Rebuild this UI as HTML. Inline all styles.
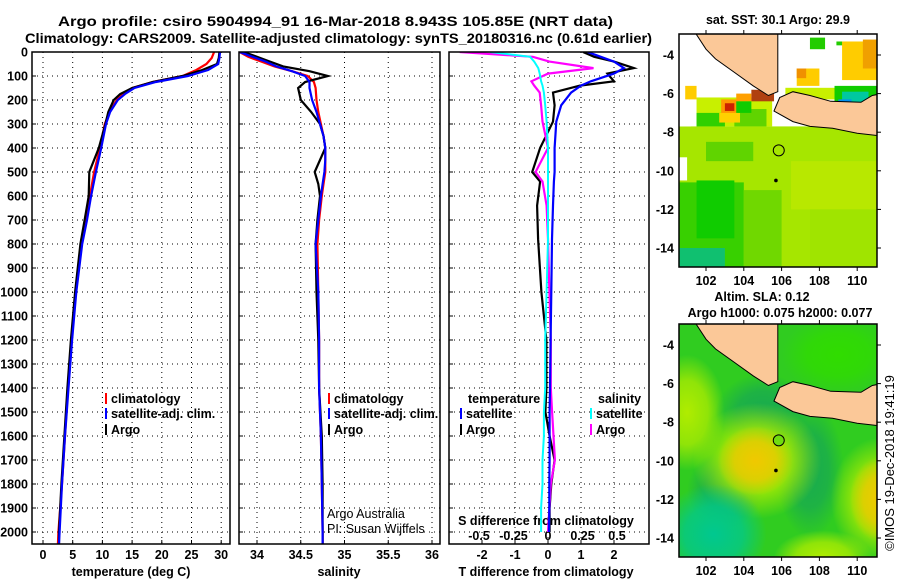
<!DOCTYPE html>
<html><head><meta charset="utf-8">
<style>
html,body{margin:0;padding:0;background:#fff;}
svg{display:block;font-family:"Liberation Sans",sans-serif;}
.b{font-weight:bold;font-size:12.5px;}
</style></head>
<body>
<svg id="fig" width="900" height="580" viewBox="0 0 900 580" xmlns="http://www.w3.org/2000/svg"></svg>
<script>
// ---------- data ----------
const tempDepths = [0,25,50,75,100,125,150,175,200,250,300,400,500,600,700,800,1000,1200,1400,1600,1800,2000,2050];
const tempClim = [28.8,28.4,27.5,25.8,23.5,18.5,15,13.5,12.4,11.2,10.4,9.6,8.6,7.9,7.2,6.5,5.5,4.8,4.2,3.7,3.2,2.6,2.5];
const tempSat = [29.8,29.7,29.5,27.8,24.4,19,15.4,13.8,12.6,11.3,10.6,9.8,8.9,8.1,7.4,6.6,5.6,4.9,4.3,3.7,3.2,2.8,2.7];
const tempArgo = [29.7,29.6,29.3,26.8,23.5,18.5,15,13,11.9,11,10.5,9.4,7.8,7.7,7.0,6.3,5.4,4.7,4.1,3.6,3.1,2.7,2.7];
const salDepths = [0,20,40,60,80,100,125,150,200,250,300,350,400,450,500,550,600,700,800,1000,1200,1400,1600,1800,2000,2050];
const salClim = [33.8,33.9,34.05,34.2,34.4,34.58,34.65,34.67,34.68,34.7,34.73,34.76,34.78,34.78,34.78,34.76,34.74,34.71,34.69,34.7,34.71,34.71,34.73,34.74,34.75,34.75];
const salSat = [33.8,33.95,34.1,34.22,34.4,34.55,34.6,34.6,34.63,34.68,34.72,34.76,34.78,34.78,34.77,34.75,34.73,34.7,34.67,34.7,34.71,34.71,34.73,34.74,34.75,34.75];
const salArgo = [33.85,34.0,34.15,34.3,34.6,34.81,34.55,34.47,34.5,34.62,34.72,34.76,34.78,34.72,34.66,34.7,34.72,34.69,34.67,34.68,34.7,34.71,34.74,34.75,34.75,34.75];
const diffDepths = [0,20,40,67,90,122,140,169,222,290,400,500,540,640,780,1000,1200,1400,1500,1600,1700,1800,1900,2000];
const tDiffSat = [1.2,1.6,2.0,2.3,2.0,1.3,1.0,0.7,0.4,0.25,0.2,0.2,0.18,0.15,0.12,0.1,0.08,0.06,0.05,0.05,0.05,0.04,0.04,0.03];
const tDiffArgo = [1.06,1.4,2.0,2.6,1.8,2.0,0.97,0.15,0.2,0.15,-0.24,-0.48,-0.24,-0.33,-0.3,-0.2,-0.05,-0.05,-0.08,0.05,0.2,0.1,0.05,0.05];
const sDiffArgo = [-0.64,-0.11,0.01,0.33,0.0,-0.12,-0.1,-0.06,-0.05,-0.04,0.0,-0.09,-0.04,-0.01,0.0,0.01,0.02,0.02,0.03,0.04,0.05,0.02,0.01,0.0];
const sDiffSat = [-0.42,-0.13,-0.1,-0.07,-0.06,-0.05,-0.04,-0.03,-0.02,-0.01,0,0,0,0,0,-0.01,-0.02,-0.02,-0.03,-0.03,-0.04,-0.04,-0.05,-0.05];
const depthTicks = [0,100,200,300,400,500,600,700,800,900,1000,1100,1200,1300,1400,1500,1600,1700,1800,1900,2000];
const tempTicks = [0,5,10,15,20,25,30];
const salTicks = [34,34.5,35,35.5,36];
const salTickLabels = ["34","34.5","35","35.5","36"];
const tDiffTicks = [-2,-1,0,1,2];
const sDiffTicks = [-0.5,-0.25,0,0.25,0.5];
const sDiffTickLabels = ["-0.5","-0.25","0","0.25","0.5"];
const latTicks = [-4,-6,-8,-10,-12,-14];
const lonTicks = [102,104,106,108,110];

// ---------- helpers ----------
const NS = "http://www.w3.org/2000/svg";
const svg = document.getElementById('fig');
function el(tag, attrs, parent) {
  const e = document.createElementNS(NS, tag);
  for (const k in attrs) e.setAttribute(k, attrs[k]);
  (parent || svg).appendChild(e);
  return e;
}
function txt(str, attrs, parent) {
  const e = el('text', attrs, parent);
  e.textContent = str;
  return e;
}
const ys = d => 52 + d * 0.24;
const xT = t => 43 + t * 5.94;
const xS = s => 257 + (s - 34) * 87.5;
const xTd = v => 548 + v * 33;
const xSd = v => 548 + v * 138;
const PY0 = 52, PY1 = 544;
const panels = [
  {name:'temperature-panel', x0:32, x1:230},
  {name:'salinity-panel', x0:239, x1:440},
  {name:'difference-panel', x0:449, x1:649}
];

// ---------- titles ----------
let t;
t = txt('Argo profile: csiro 5904994_91 16-Mar-2018 8.943S 105.85E (NRT data)', {x:58, y:26, 'font-size':14, 'font-weight':'bold', textLength:555, lengthAdjust:'spacingAndGlyphs'});


t = txt('Climatology: CARS2009. Satellite-adjusted climatology: synTS_20180316.nc (0.61d earlier)', {x:25, y:43, 'font-size':14, 'font-weight':'bold', textLength:627, lengthAdjust:'spacingAndGlyphs'});



// ---------- panels frames & grids ----------
panels.forEach(p => {
  const g = el('g', {});
  
  
  depthTicks.forEach(d => {
    const ln = el('line', {x1:p.x0, x2:p.x1, y1:ys(d), y2:ys(d), stroke:'#000', 'stroke-width':1, 'stroke-dasharray':'1,4'}, g);
    
    
    const tk = el('line', {x1:p.x0, x2:p.x0+4, y1:ys(d), y2:ys(d), stroke:'#000'}, g);
    
    
  });
  p.g = g;
});
depthTicks.forEach(d => {
  const lb = txt(String(d), {x:28, y:ys(d)+4.5, 'text-anchor':'end', class:'b'});
  
  
});
function xAxis(p, ticks, labels, fx, ly) {
  ticks.forEach((v, i) => {
    const ln = el('line', {x1:fx(v), x2:fx(v), y1:PY0, y2:PY1, stroke:'#000', 'stroke-width':1, 'stroke-dasharray':'1,4'}, p.g);
    
    
    const tk = el('line', {x1:fx(v), x2:fx(v), y1:PY1, y2:PY1-4, stroke:'#000'}, p.g);
    
    
    const lb = txt(labels[i], {x:fx(v), y:ly, 'text-anchor':'middle', class:'b'});
    
    
  });
}
xAxis(panels[0], tempTicks, tempTicks.map(String), xT, 559);
xAxis(panels[1], salTicks, salTickLabels, xS, 559);
xAxis(panels[2], tDiffTicks, tDiffTicks.map(String), xTd, 559);
sDiffTicks.forEach((v, i) => {
  const lb = txt(sDiffTickLabels[i], {x:xSd(v), y:540, 'text-anchor':'middle', class:'b'});
  
  
});
t = txt('temperature (deg C)', {x:131, y:576, 'text-anchor':'middle', class:'b'});


t = txt('salinity', {x:339, y:576, 'text-anchor':'middle', class:'b'});


t = txt('T difference from climatology', {x:546, y:576, 'text-anchor':'middle', class:'b'});


t = txt('S difference from climatology', {x:546, y:525, 'text-anchor':'middle', class:'b'});



// ---------- series ----------
function clip(p){
  const id = 'clip-' + p.name;
  const cp = el('clipPath', {id:id});
  el('rect', {x:p.x0, y:PY0, width:p.x1-p.x0, height:PY1-PY0}, cp);
  return 'url(#' + id + ')';
}
panels.forEach(p => p.clip = clip(p));
function series(p, depths, vals, fx, color, w, name) {
  const pts = vals.map((v, i) => fx(v).toFixed(1) + ',' + ys(depths[i]).toFixed(1)).join(' ');
  const pl = el('polyline', {points:pts, fill:'none', stroke:color, 'stroke-width':w, 'stroke-linejoin':'miter', 'clip-path':p.clip});
  
  
}
series(panels[0], tempDepths, tempClim, xT, '#ff0000', 2.2, 'temp-climatology-line');
series(panels[0], tempDepths, tempArgo, xT, '#000', 2.2, 'temp-argo-line');
series(panels[0], tempDepths, tempSat, xT, '#0000ff', 2.2, 'temp-satellite-line');
series(panels[1], salDepths, salClim, xS, '#ff0000', 2.2, 'sal-climatology-line');
series(panels[1], salDepths, salArgo, xS, '#000', 2.2, 'sal-argo-line');
series(panels[1], salDepths, salSat, xS, '#0000ff', 2.2, 'sal-satellite-line');
series(panels[2], diffDepths, tDiffArgo, xTd, '#000', 2.2, 't-diff-argo-line');
series(panels[2], diffDepths, sDiffArgo, xSd, '#ff00ff', 2.2, 's-diff-argo-line');
series(panels[2], diffDepths, tDiffSat, xTd, '#0000ff', 2.2, 't-diff-satellite-line');
series(panels[2], diffDepths, sDiffSat, xSd, '#00ffff', 2, 's-diff-satellite-line');

panels.forEach(p => {
  const r = el('rect', {x:p.x0, y:PY0, width:p.x1-p.x0, height:PY1-PY0, fill:'none', stroke:'#000', 'stroke-width':1.5});
  
  
});

// ---------- legends ----------
function legItem(x, y, color, label, name) {
  const g = el('g', {});
  
  
  el('line', {x1:x, x2:x, y1:y-10, y2:y+1, stroke:color, 'stroke-width':2}, g);
  txt(label, {x:x+5, y:y, class:'b'}, g);
}
legItem(106, 403, '#ff0000', 'climatology', 'legend-temp-climatology');
legItem(106, 418, '#0000ff', 'satellite-adj. clim.', 'legend-temp-satellite');
legItem(106, 434, '#000', 'Argo', 'legend-temp-argo');
legItem(329, 403, '#ff0000', 'climatology', 'legend-sal-climatology');
legItem(329, 418, '#0000ff', 'satellite-adj. clim.', 'legend-sal-satellite');
legItem(329, 434, '#000', 'Argo', 'legend-sal-argo');
t = txt('temperature', {x:468, y:403, class:'b'});


t = txt('salinity', {x:598, y:403, class:'b'});


legItem(461, 418, '#0000ff', 'satellite', 'legend-tdiff-satellite');
legItem(461, 434, '#000', 'Argo', 'legend-tdiff-argo');
legItem(591, 418, '#00ffff', 'satellite', 'legend-sdiff-satellite');
legItem(591, 434, '#ff00ff', 'Argo', 'legend-sdiff-argo');
t = txt('Argo Australia', {x:327, y:518, 'font-size':12.5});


t = txt('PI: Susan Wijffels', {x:327, y:533, 'font-size':12.5});



// ---------- maps ----------
const MX0 = 679, MX1 = 877;
const mx = lon => 706 + (lon - 102) * 18.9;
function makeMap(top, name) {
  const myf = lat => top + 21 + (-4 - lat) * 19.3;
  const H = 233;
  const g = el('g', {});
  
  
  const cid = 'clip-' + name;
  const cp = el('clipPath', {id:cid});
  el('rect', {x:MX0, y:top, width:MX1-MX0, height:H}, cp);
  const inner = el('g', {'clip-path':'url(#'+cid+')'}, g);
  return {g, inner, my:myf, top, H};
}
function rectLL(m, lon0, lat0, lon1, lat1, fill) {
  return el('rect', {x:mx(lon0), y:m.my(lat0), width:mx(lon1)-mx(lon0), height:m.my(lat1)-m.my(lat0), fill:fill}, m.inner);
}
const sumatra = [[101.2,-2.5],[102.0,-3.7],[102.5,-4.2],[103.5,-4.9],[104.5,-5.6],[105.3,-6.1],[105.8,-5.9],[105.8,-2.5]];
const java = [[105.6,-6.9],[105.9,-6.2],[106.6,-5.9],[107.5,-6.1],[108.6,-6.4],[110.2,-6.45],[110.8,-6.1],[111.3,-6.0],[111.3,-8.2],[110,-8.05],[108.7,-7.8],[107.5,-7.7],[106.6,-7.45]];
function land(m, circleFill) {
  [sumatra, java].forEach((poly, i) => {
    const pts = poly.map(p => mx(p[0]).toFixed(1) + ',' + m.my(p[1]).toFixed(1)).join(' ');
    const pg = el('polygon', {points:pts, fill:'#fbc898', stroke:'#000', 'stroke-width':1}, m.inner);
    
    
  });
  const c = el('circle', {cx:mx(105.85), cy:m.my(-8.943), r:5.5, fill:circleFill, stroke:'#000', 'stroke-width':1}, m.inner);
  
  
  const d = el('circle', {cx:mx(105.7), cy:m.my(-10.5), r:1.8, fill:'#000'}, m.inner);
  
  
}
function mapAxes(m, labelY) {
  latTicks.forEach(l => {
    const lb = txt(String(l), {x:674, y:m.my(l)+4.5, 'text-anchor':'end', class:'b'});
    
    
    el('line', {x1:MX1, x2:MX1+4, y1:m.my(l), y2:m.my(l), stroke:'#000'}, m.g);
  });
  lonTicks.forEach(l => {
    const lb = txt(String(l), {x:mx(l), y:labelY, 'text-anchor':'middle', class:'b'});
    
    
    el('line', {x1:mx(l), x2:mx(l), y1:m.top+m.H, y2:m.top+m.H+4, stroke:'#000'}, m.g);
    el('line', {x1:mx(l), x2:mx(l), y1:m.top, y2:m.top-4, stroke:'#000'}, m.g);
  });
  const fr = el('rect', {x:MX0, y:m.top, width:MX1-MX0, height:m.H, fill:'none', stroke:'#000', 'stroke-width':1.5}, m.g);
  
  
}

// top SST map
const m1 = makeMap(34, 'sst-map');
rectLL(m1, 100, -2, 112, -16, '#ffffff');
rectLL(m1, 100, -7.7, 112, -16, '#a6e600');
rectLL(m1, 100, -9.3, 101, -10.5, '#ffffff');
rectLL(m1, 100.5, -10.6, 104, -15.5, '#38d000');
rectLL(m1, 101.5, -10.5, 103.5, -13.5, '#10cc00');
rectLL(m1, 104, -11, 106, -15.5, '#70d800');
rectLL(m1, 100.5, -14, 103, -15.5, '#10c070');
rectLL(m1, 102, -8.5, 104.5, -9.5, '#60d400');
rectLL(m1, 106.5, -9.5, 111.2, -12, '#b8e800');
rectLL(m1, 107.5, -12, 111.2, -15.5, '#a0e400');
rectLL(m1, 100.5, -7.3, 101.2, -7.7, '#ffffff');
rectLL(m1, 101.5, -6.2, 105.5, -7.7, '#c8f000');
rectLL(m1, 101.5, -7, 103, -7.7, '#30d000');
rectLL(m1, 103.5, -6.8, 105.2, -7.7, '#60d400');
rectLL(m1, 100.9, -5.6, 101.5, -6.3, '#ffcc00');
rectLL(m1, 102.8, -6.3, 103.7, -7.2, '#ff9900');
rectLL(m1, 103.0, -6.5, 103.5, -6.9, '#cc2200');
rectLL(m1, 102.7, -7.0, 103.8, -7.5, '#ffd000');
rectLL(m1, 104.4, -5.8, 105.6, -6.4, '#b04010');
rectLL(m1, 103.6, -6.0, 104.4, -6.4, '#ffa000');
rectLL(m1, 103.6, -6.4, 104.4, -7.0, '#10cc00');
rectLL(m1, 106.8, -4.7, 108.0, -5.6, '#ffcc00');
rectLL(m1, 106.8, -4.7, 107.3, -5.2, '#f09000');
rectLL(m1, 106.2, -5.7, 109, -6.3, '#c8f000');
rectLL(m1, 107.5, -3.1, 108.3, -3.7, '#22cc00');
rectLL(m1, 108.9, -3.3, 109.5, -3.5, '#22cc00');
rectLL(m1, 109.2, -3.3, 111.2, -5.3, '#ffcc00');
rectLL(m1, 110.3, -3.2, 111.2, -4.7, '#f0a000');
rectLL(m1, 108.8, -5.6, 111.2, -7.0, '#10cc00');
rectLL(m1, 109.2, -5.9, 110.6, -6.9, '#00c8a0');
rectLL(m1, 109.0, -6.3, 109.7, -6.8, '#0090f0');
land(m1, 'none');
mapAxes(m1, 285);
t = txt('sat. SST: 30.1 Argo: 29.9', {x:778, y:24, 'text-anchor':'middle', class:'b'});



// bottom SLA map
const m2 = makeMap(324, 'sla-map');
const defs = el('defs', {});
function rg(id, c) {
  const g = el('radialGradient', {id:id}, defs);
  el('stop', {offset:'0', 'stop-color':c, 'stop-opacity':1}, g);
  el('stop', {offset:'0.55', 'stop-color':c, 'stop-opacity':0.75}, g);
  el('stop', {offset:'1', 'stop-color':c, 'stop-opacity':0}, g);
}
rg('gy', '#f0c800'); rg('gl', '#b0ec00'); rg('gt', '#00c890'); rg('gd', '#18aa50'); rg('gg', '#30dc00');
rectLL(m2, 100, -2, 112, -16, '#30cc20');
function blob(m, lon, lat, rx, ry, id) {
  el('ellipse', {cx:mx(lon), cy:m.my(lat), rx:rx*18.9, ry:ry*19.3, fill:'url(#'+id+')'}, m.inner);
}
blob(m2, 101, -7.5, 2, 3, 'gl');
blob(m2, 105, -7.5, 2.5, 2, 'gd');
blob(m2, 107.5, -10.5, 1.8, 3.5, 'gd');
blob(m2, 103, -11.5, 2, 2, 'gd');
blob(m2, 104.7, -10, 3.4, 3, 'gl');
blob(m2, 104.6, -10, 2.0, 1.8, 'gy');
blob(m2, 111.2, -12, 2.6, 3.2, 'gl');
blob(m2, 111.2, -12, 1.6, 2.2, 'gy');
blob(m2, 102.4, -13.8, 2.8, 2.6, 'gt');
blob(m2, 108.2, -15, 2.6, 1.4, 'gl');
blob(m2, 109, -4.5, 3, 2, 'gg');
land(m2, '#70dc10');
mapAxes(m2, 575);
t = txt('Altim. SLA: 0.12', {x:762, y:301, 'text-anchor':'middle', class:'b'});


t = txt('Argo h1000: 0.075 h2000: 0.077', {x:780, y:317, 'text-anchor':'middle', class:'b'});


t = txt('\u00A9IMOS 19-Dec-2018 19:41:19', {x:0, y:0, 'font-size':13, 'text-anchor':'middle', transform:'translate(894,463) rotate(-90)'});


</script>
</body></html>
